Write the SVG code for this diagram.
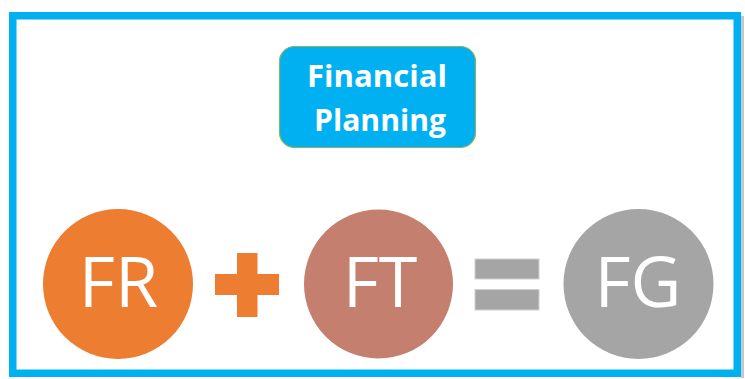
<svg xmlns="http://www.w3.org/2000/svg" width="745" height="379" viewBox="0 0 745 379">
<style>
.lbl{font-family:"Open Sans","Noto Sans","Liberation Sans",sans-serif;fill:#FFFFFF;text-anchor:middle}
.big{font-size:70px}
.ttl{font-size:31px;font-weight:bold}
</style>
<rect x="0" y="0" width="745" height="379" fill="#FFFFFF"/>
<rect x="741" y="16" width="3" height="362" fill="#C8C8C8"/>
<rect x="12.75" y="15.75" width="724.5" height="357.5" fill="none" stroke="#00B0F0" stroke-width="7.5"/>
<g id="title">
<rect x="279.5" y="46.5" width="196" height="101" rx="15" ry="15" fill="#00B0F0" stroke="#8DB360" stroke-width="1.2"/>
<text class="lbl ttl" x="377" y="87" textLength="140" lengthAdjust="spacingAndGlyphs">Financial</text>
<text class="lbl ttl" x="380" y="131" textLength="132" lengthAdjust="spacingAndGlyphs">Planning</text>
</g>
<g id="FR">
<circle cx="118" cy="284" r="75" fill="#ED7D31"/>
<text class="lbl big" x="118.5" y="307">FR</text>
</g>
<g id="plus">
<rect x="237" y="253" width="20.5" height="64" fill="#ED7D31"/>
<rect x="215" y="274" width="64" height="21" fill="#ED7D31"/>
</g>
<g id="FT">
<circle cx="378.5" cy="284" r="74.5" fill="#C47F6E"/>
<text class="lbl big" x="380" y="307">FT</text>
</g>
<g id="equals">
<rect x="475" y="259" width="64" height="20" fill="#A5A5A5" stroke="#D0D0D0" stroke-width="1"/>
<rect x="475" y="289.5" width="64" height="20.5" fill="#A5A5A5" stroke="#D0D0D0" stroke-width="1"/>
</g>
<g id="FG">
<circle cx="638.5" cy="284" r="75" fill="#A5A5A5"/>
<text class="lbl big" x="638" y="307">FG</text>
</g>
<g id="connectors"></g>
</svg>
